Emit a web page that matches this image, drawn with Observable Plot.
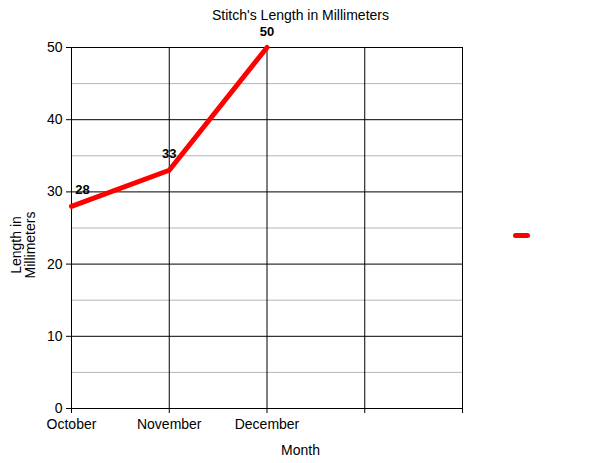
<!DOCTYPE html>
<html>
<head>
<meta charset="utf-8">
<script src="https://cdn.jsdelivr.net/npm/d3@7"></script>
<script src="https://cdn.jsdelivr.net/npm/@observablehq/plot@0.6"></script>
<style>
  html, body { margin: 0; padding: 0; background: #fff; }
  #wrap { position: relative; width: 600px; height: 463px; }
  #legend { position: absolute; left: 513px; top: 233px; width: 17px; height: 5px; border-radius: 3px; background: #f00; }
</style>
</head>
<body>
<div id="wrap"><div id="legend"></div></div>
<script>
const title = "Stitch's Length in Millimeters";
const xLabel = "Month";
const yLabelLines = "Length in\nMillimeters";
const categories = ["October", "November", "December", "", ""];
const months = ["October", "November", "December"];
const values = [28, 33, 50];
const majorTicks = [0, 10, 20, 30, 40, 50];
const minorTicks = [5, 15, 25, 35, 45];

const data = months.map((m, i) => ({i, month: m, value: values[i]}));
const xIdx = categories.map((c, i) => i);

const chart = Plot.plot({
  width: 600,
  height: 463,
  marginLeft: 71,
  marginRight: 138,
  marginTop: 47,
  marginBottom: 55,
  style: {fontFamily: "Liberation Sans, Arial, sans-serif", fontSize: "14px", color: "#000", background: "#fff"},
  x: {type: "linear", domain: [0, categories.length - 1]},
  y: {domain: [0, 50]},
  marks: [
    Plot.ruleY(minorTicks, {stroke: "#b5b5b5", strokeWidth: 1}),
    Plot.ruleY(majorTicks, {stroke: "#000", strokeWidth: 1}),
    Plot.ruleX(xIdx, {stroke: "#000", strokeWidth: 1}),
    Plot.axisY(majorTicks, {tickSize: 5, tickPadding: 4, fontSize: 14, label: null}),
    Plot.axisX(xIdx, {tickSize: 5, tickPadding: 6, fontSize: 14, label: null, tickFormat: i => categories[i]}),
    Plot.line(data, {x: "i", y: "value", stroke: "#f00", strokeWidth: 5, strokeLinejoin: "round", strokeLinecap: "round"}),
    Plot.text(data.slice(1), {x: "i", y: "value", text: d => String(d.value), dy: -16, fontWeight: "bold", fontSize: 13}),
    Plot.text(data.slice(0, 1), {x: "i", y: "value", text: d => String(d.value), dy: -17, dx: 11, fontWeight: "bold", fontSize: 13}),
    Plot.text([title], {frameAnchor: "top", dx: 33.5, dy: -37, fontSize: 14}),
    Plot.text([xLabel], {frameAnchor: "bottom", dx: 33.5, dy: 46, fontSize: 14}),
    Plot.text([yLabelLines], {frameAnchor: "left", textAnchor: "middle", dx: -48, dy: 17, rotate: -90, fontSize: 14, lineHeight: 1.0})
  ]
});
document.getElementById("wrap").prepend(chart);
</script>
</body>
</html>
